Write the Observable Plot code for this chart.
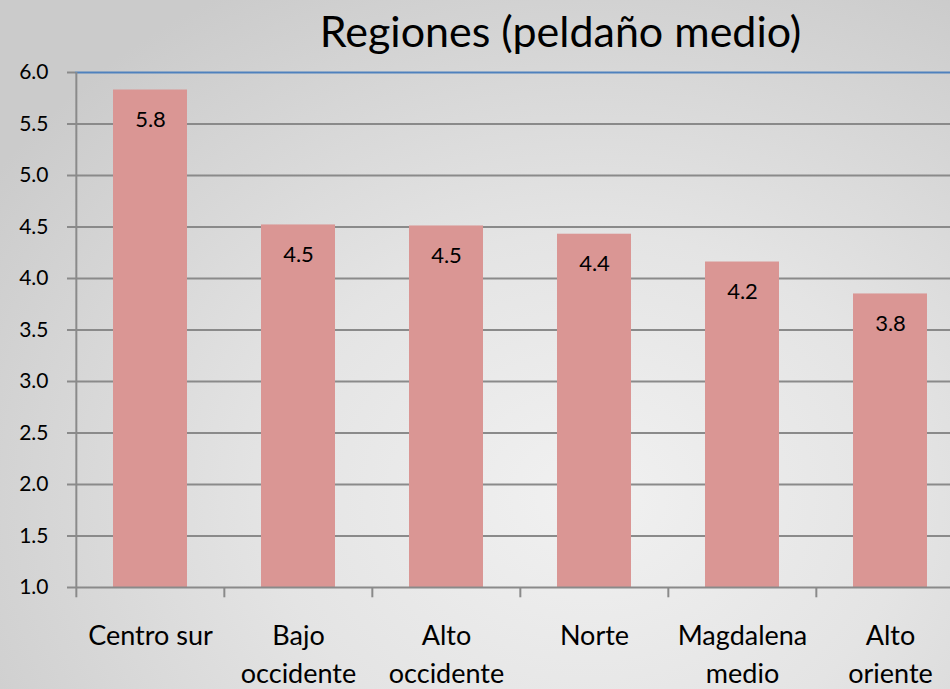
<!DOCTYPE html>
<html>
<head>
<meta charset="utf-8">
<script src="https://cdn.jsdelivr.net/npm/d3@7"></script>
<script src="https://cdn.jsdelivr.net/npm/@observablehq/plot@0.6"></script>
<style>
  html, body { margin: 0; padding: 0; overflow: hidden; width: 950px; height: 689px; }
  body {
    background: radial-gradient(ellipse 75% 85% at 62% 72%, #f1f1f1 0%, #e4e4e4 45%, #cbcbcb 100%);
    font-family: Lato, "Open Sans", sans-serif;
  }
  #chart svg { display: block; background: transparent; overflow: visible; max-width: none !important; height: 689px !important; }
</style>
</head>
<body>
<div id="chart"></div>
<script>
const title = "Regiones (peldaño medio)";
const categories = ["Centro sur", "Bajo occidente", "Alto occidente", "Norte", "Magdalena medio", "Alto oriente"];
const categoryLabels = ["Centro sur", "Bajo\noccidente", "Alto\noccidente", "Norte", "Magdalena\nmedio", "Alto\noriente"];
const values = [5.83, 4.52, 4.51, 4.43, 4.16, 3.85];
const valueLabels = ["5.8", "4.5", "4.5", "4.4", "4.2", "3.8"];
const yTicks = [1.0, 1.5, 2.0, 2.5, 3.0, 3.5, 4.0, 4.5, 5.0, 5.5, 6.0];

const data = categories.map((c, i) => ({cat: c, label: categoryLabels[i], value: values[i], text: valueLabels[i]}));

const W = 965, marginLeft = 75;
const bw = (W - marginLeft) / categories.length;

const chart = Plot.plot({
  width: W,
  height: 689,
  marginLeft: marginLeft,
  marginRight: 0,
  marginTop: 72,
  marginBottom: 102,
  style: {background: "transparent", fontFamily: "Lato, 'Open Sans', sans-serif", color: "#000"},
  x: {domain: categories, paddingInner: 0.5, paddingOuter: 0.25, align: 0.5, axis: null},
  y: {domain: [1, 6], axis: null},
  marks: [
    // gridlines
    Plot.ruleY(yTicks.filter(t => t > 1 && t < 6), {stroke: "#8a8a8a", strokeWidth: 2}),
    Plot.ruleY([6], {stroke: "#4f81bd", strokeWidth: 2}),
    // bars
    Plot.barY(data, {x: "cat", y1: 1, y2: "value", fill: "#da9694"}),
    // y axis line + ticks
    Plot.ruleX([categories[0]], {y1: 1, y2: 6, dx: -bw / 2, stroke: "#8a8a8a", strokeWidth: 2}),
    Plot.axisY({ticks: yTicks, tickFormat: d3.format(".1f"), label: null, tickSize: 8, tickPadding: 19, fontSize: 21, stroke: "#8a8a8a", strokeWidth: 2, fill: "#000"}),
    // x axis baseline + boundary ticks
    Plot.ruleY([1], {stroke: "#8a8a8a", strokeWidth: 2}),
    Plot.ruleX(categories, {y1: 1, y2: 0.9, dx: -bw / 2, stroke: "#8a8a8a", strokeWidth: 2}),
    // category labels
    Plot.text(data, {x: "cat", y: 1, text: "label", dy: 30, lineAnchor: "top", lineHeight: 1.42, fontSize: 27, fill: "#000"}),
    // value labels
    Plot.text(data, {x: "cat", y: "value", text: "text", dy: 30, fontSize: 22, fill: "#000"}),
    // title
    Plot.text([title], {frameAnchor: "top", lineAnchor: "middle", dx: 40, dy: -39, fontSize: 43, fill: "#000"})
  ]
});
document.getElementById("chart").appendChild(chart);
</script>
</body>
</html>
